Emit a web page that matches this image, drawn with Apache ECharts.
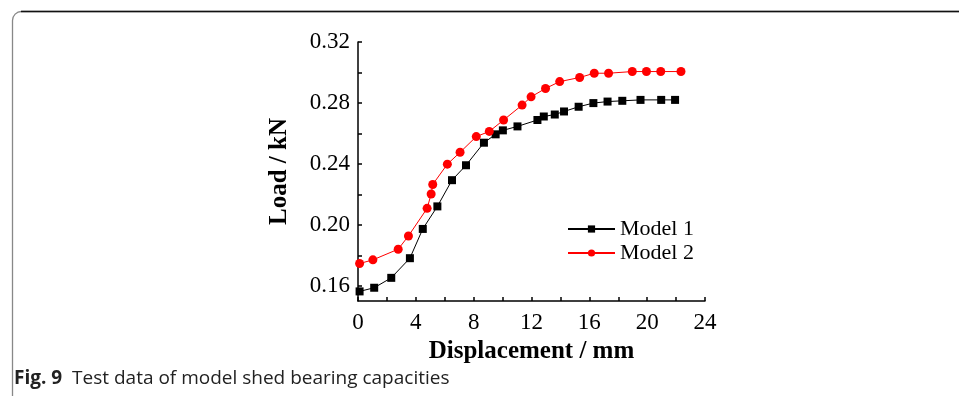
<!DOCTYPE html>
<html>
<head>
<meta charset="utf-8">
<script src="https://cdn.jsdelivr.net/npm/echarts@6/dist/echarts.min.js"></script>
<style>
  html, body { margin: 0; padding: 0; background: #fff; }
  #chart { width: 959px; height: 396px; }
</style>
</head>
<body>
<div id="chart"></div>
<script>
// displacement (mm) / load (kN)
var model1X = [0.11, 1.12, 2.30, 3.59, 4.48, 5.49, 6.50, 7.47, 8.71, 9.52, 10.02, 11.03,
    12.41, 12.85, 13.61, 14.25, 15.26, 16.28, 17.26, 18.28, 19.54, 20.97, 21.93];
var model1Y = [0.1563, 0.1587, 0.1652, 0.1781, 0.1973, 0.2121, 0.2293, 0.2391, 0.2539, 0.2594, 0.2620, 0.2646,
    0.2688, 0.2711, 0.2724, 0.2744, 0.2775, 0.2799, 0.2809, 0.2814, 0.2820, 0.2820, 0.2820];
var model2X = [0.11, 1.03, 2.78, 3.49, 4.78, 5.06, 5.17, 6.18, 7.06, 8.18, 9.08, 10.07,
    11.35, 11.97, 12.97, 13.95, 15.33, 16.34, 17.33, 18.97, 19.95, 20.94, 22.34];
var model2Y = [0.1746, 0.1770, 0.1840, 0.1927, 0.2108, 0.2202, 0.2265, 0.2398, 0.2476, 0.2579, 0.2613, 0.2688,
    0.2786, 0.2840, 0.2895, 0.2940, 0.2967, 0.2995, 0.2995, 0.3006, 0.3006, 0.3006, 0.3006];

var xLabels = [0, 4, 8, 12, 16, 20, 24];
var xTicks = [0, 2, 4, 6, 8, 10, 12, 14, 16, 18, 20, 22, 24];
var yLabels = [0.16, 0.20, 0.24, 0.28, 0.32];
var yTicks = [0.16, 0.18, 0.20, 0.22, 0.24, 0.26, 0.28, 0.30, 0.32];

function pairs(xs, ys) {
    return xs.map(function (x, i) { return [x, ys[i]]; });
}

var serif = 'Liberation Serif';

var chart = echarts.init(document.getElementById('chart'));
chart.setOption({
    animation: false,
    backgroundColor: '#fff',
    grid: { left: 358, top: 42, right: 254, bottom: 95 },
    legend: {
        data: ['Model 1', 'Model 2'],
        orient: 'vertical',
        left: 562,
        top: 213,
        itemWidth: 47,
        itemHeight: 9,
        itemGap: 2,
        textStyle: { fontFamily: serif, fontSize: 22, color: '#000' }
    },
    xAxis: {
        type: 'value',
        min: 0,
        max: 24,
        name: 'Displacement / mm',
        nameLocation: 'middle',
        nameGap: 37,
        nameTextStyle: { fontFamily: serif, fontSize: 25, fontWeight: 'bold', color: '#000' },
        axisLine: { lineStyle: { color: '#000', width: 1.5 } },
        axisTick: { inside: true, length: 4, customValues: xTicks, lineStyle: { color: '#000', width: 1.5 } },
        axisLabel: { customValues: xLabels, fontFamily: serif, fontSize: 23, color: '#000', margin: 10 },
        splitLine: { show: false }
    },
    yAxis: {
        type: 'value',
        min: 0.15,
        max: 0.32,
        name: 'Load / kN',
        nameLocation: 'middle',
        nameGap: 66,
        nameTextStyle: { fontFamily: serif, fontSize: 25, fontWeight: 'bold', color: '#000' },
        axisLine: { show: true, lineStyle: { color: '#000', width: 1.5 } },
        axisTick: { show: true, inside: true, length: 4, customValues: yTicks, lineStyle: { color: '#000', width: 1.5 } },
        axisLabel: {
            customValues: yLabels,
            fontFamily: serif, fontSize: 23, color: '#000', margin: 8,
            formatter: function (v) { return v.toFixed(2); }
        },
        splitLine: { show: false }
    },
    series: [
        {
            name: 'Model 1',
            type: 'line',
            data: pairs(model1X, model1Y),
            symbol: 'rect',
            symbolSize: 8,
            itemStyle: { color: '#000' },
            lineStyle: { color: '#000', width: 1 }
        },
        {
            name: 'Model 2',
            type: 'line',
            data: pairs(model2X, model2Y),
            symbol: 'circle',
            symbolSize: 9,
            itemStyle: { color: '#ff0000' },
            lineStyle: { color: '#ff0000', width: 1 }
        }
    ],
    graphic: [
        {
            type: 'rect',
            shape: { x: 12.5, y: 11.5, width: 1100, height: 600, r: 9 },
            style: { fill: null, stroke: '#888', lineWidth: 1.3 }
        },
        {
            type: 'line',
            shape: { x1: 21, y1: 11.5, x2: 959, y2: 11.5 },
            style: { stroke: '#111', lineWidth: 1.3 }
        },
        {
            type: 'text',
            left: 14,
            top: 369,
            style: {
                text: '{b|Fig. 9}  Test data of model shed bearing capacities',
                font: '19px "Open Sans"',
                fill: '#222',
                rich: {
                    b: { fontFamily: 'Open Sans', fontSize: 19, fontWeight: 'bold', fill: '#222' }
                }
            }
        }
    ]
});
</script>
</body>
</html>
